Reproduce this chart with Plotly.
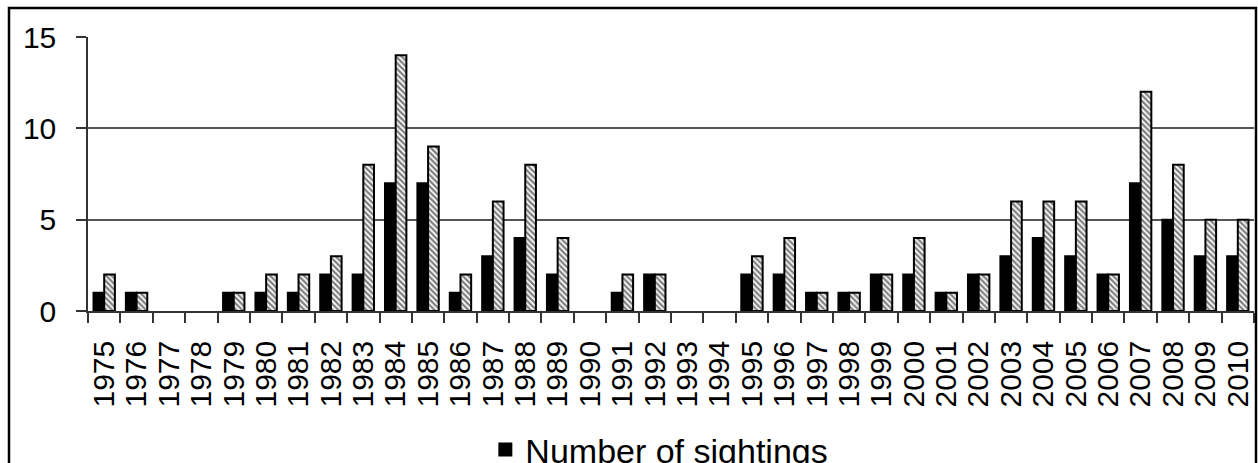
import plotly.graph_objects as go

years = [str(y) for y in range(1975, 2011)]
sightings = [1, 1, 0, 0, 1, 1, 1, 2, 2, 7, 7, 1, 3, 4, 2, 0, 1, 2, 0, 0,
             2, 2, 1, 1, 2, 2, 1, 2, 3, 4, 3, 2, 7, 5, 3, 3]
individuals = [2, 1, 0, 0, 1, 2, 2, 3, 8, 14, 9, 2, 6, 8, 4, 0, 2, 2, 0, 0,
               3, 4, 1, 1, 2, 4, 1, 2, 6, 6, 6, 2, 12, 8, 5, 5]
y_ticks = [0, 5, 10, 15]

W, H = 1258, 463
L, R, T, B = 88, 4, 37, 152
pw, ph = W - L - R, H - T - B

def px_x(p):
    return (p - L) / pw

def px_y(p):
    return (H - B - p) / ph

def nz(vals):
    # zero-height bars are not drawn in the reference
    return [v if v else None for v in vals]

FONT = "Liberation Sans, Arial, sans-serif"

fig = go.Figure()
fig.add_trace(go.Bar(
    x=years, y=nz(sightings), name="Number of sightings",
    marker=dict(color="black", line=dict(color="black", width=2)),
))
fig.add_trace(go.Bar(
    x=years, y=nz(individuals), name="Number of individuals", showlegend=False,
    marker=dict(color="white", line=dict(color="black", width=2),
                pattern=dict(shape="\\", fgcolor="black", bgcolor="white",
                             size=4, solidity=0.55)),
))

fig.update_layout(
    width=W, height=H,
    margin=dict(l=L, r=R, t=T, b=B, autoexpand=False),
    paper_bgcolor="white", plot_bgcolor="white",
    barmode="group", bargap=0.34, bargroupgap=0,
    font=dict(family=FONT, color="black", size=30),
    showlegend=True,
    legend=dict(orientation="h", x=0.49, xanchor="center", y=px_y(421), yanchor="top",
                font=dict(size=34, family=FONT, color="black"),
                bgcolor="rgba(0,0,0,0)", itemwidth=30),
    xaxis=dict(type="category", tickmode="array", tickvals=years, ticktext=years,
               tickangle=-90, ticks="outside", ticklen=10,
               tickcolor="#333", tickwidth=1.5, tickson="boundaries",
               showline=True, linecolor="#333", linewidth=1.5,
               showgrid=False, ticklabelstandoff=16,
               tickfont=dict(size=30, family=FONT, color="black")),
    yaxis=dict(range=[0, 15], tickvals=y_ticks, ticks="outside", ticklen=10,
               tickcolor="#333", tickwidth=1.5,
               showline=True, linecolor="#333", linewidth=1.5,
               showgrid=True, gridcolor="#555", gridwidth=1.5,
               zeroline=False, ticklabelstandoff=14,
               tickfont=dict(size=30, family=FONT, color="black")),
    shapes=[dict(type="rect", xref="paper", yref="paper",
                 x0=px_x(9), x1=px_x(1256), y0=px_y(490), y1=px_y(8),
                 line=dict(color="black", width=2.5), layer="above")],
)

fig.write_html("out.html")
